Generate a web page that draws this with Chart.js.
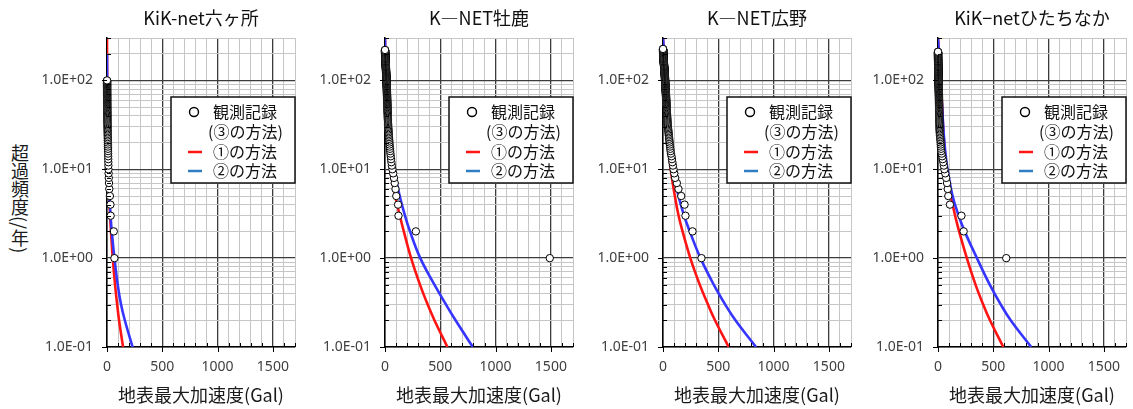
<!DOCTYPE html>
<html lang="ja">
<head>
<meta charset="utf-8">
<title>地表最大加速度の超過頻度</title>
<script src="https://cdn.jsdelivr.net/npm/chart.js@4.4.1/dist/chart.umd.min.js"></script>
<style>
  html, body { margin: 0; padding: 0; background: #fff; }
  body { width: 1133px; height: 409px; overflow: hidden; position: relative; }
  .panel { position: absolute; top: 0; }
  #yTitle {
    position: absolute; left: 11px; top: 144px;
    font: 18px "Noto Sans CJK JP", sans-serif; line-height: 1;
    writing-mode: vertical-rl; color: #1a1a1a;
  }
</style>
</head>
<body>
<div id="yTitle">超過頻度(/年)</div>
<canvas class="panel" id="p0" width="280" height="409" style="left:27px"></canvas>
<canvas class="panel" id="p1" width="280" height="409" style="left:305px"></canvas>
<canvas class="panel" id="p2" width="280" height="409" style="left:583px"></canvas>
<canvas class="panel" id="p3" width="280" height="409" style="left:858px"></canvas>
<script>
// --- axes ---
const xTickValues = [0, 100, 200, 300, 400, 500, 600, 700, 800, 900, 1000, 1100, 1200, 1300, 1400, 1500, 1600, 1700];
const xLabelValues = [0, 500, 1000, 1500];
const yTickValues = [0.1, 0.2, 0.3, 0.4, 0.5, 0.6, 0.7, 0.8, 0.9,
                     1, 2, 3, 4, 5, 6, 7, 8, 9,
                     10, 20, 30, 40, 50, 60, 70, 80, 90,
                     100, 200, 300];
const yMajorValues = [0.1, 1, 10, 100];
const yMajorLabels = ['1.0E-01', '1.0E+00', '1.0E+01', '1.0E+02'];

const stationNames = ['KiK-net六ヶ所', 'K—NET牡鹿', 'K—NET広野', 'KiK−netひたちなか'];
const legendLabels = ['観測記録', '(③の方法)', '①の方法', '②の方法'];

// --- observed PGA (Gal), largest first; exceedance count = rank ---
const obsRokkasho = [
  67, 61, 33, 31, 26, 21, 18, 16, 14.5, 13,
  12.4, 11.8, 11.2, 10.6, 10.1, 9.6, 9.1, 8.7, 8.3, 7.9,
  7.5, 7.2, 6.9, 6.6, 6.3, 6.0, 5.8, 5.5, 5.3, 5.1,
  4.9, 4.7, 4.5, 4.3, 4.2, 4.0, 3.9, 3.7, 3.6, 3.5,
  3.4, 3.3, 3.2, 3.1, 3.0, 2.9, 2.8, 2.7, 2.6, 2.5,
  2.4, 2.4, 2.3, 2.2, 2.2, 2.1, 2.0, 2.0, 1.9, 1.9,
  1.8, 1.8, 1.7, 1.7, 1.6, 1.6, 1.5, 1.5, 1.5, 1.4,
  1.4, 1.3, 1.3, 1.3, 1.2, 1.2, 1.2, 1.1, 1.1, 1.1,
  1.0, 1.0, 1.0, 0.9, 0.9, 0.9, 0.9, 0.8, 0.8, 0.8,
  0.8, 0.7, 0.7, 0.7, 0.7, 0.6, 0.6, 0.6, 0.6, 0.5
];
const obsOshika = [
  1490, 279, 122, 118, 102, 95, 88, 81, 74, 67,
  62, 58, 55, 52, 49, 47, 45, 43, 41, 40,
  38.5, 37, 36, 35, 34, 33, 32, 31, 30, 29,
  28.5, 28, 27.6, 27.2, 26.8, 26.4, 26, 25.6, 25.3, 25,
  24.7, 24.4, 24.1, 23.8, 23.5, 23.2, 22.9, 22.6, 22.3, 22,
  21.8, 21.6, 21.4, 21.2, 21, 20.8, 20.6, 20.4, 20.2, 20,
  19.8, 19.6, 19.4, 19.2, 19, 18.8, 18.6, 18.4, 18.2, 18,
  17.8, 17.7, 17.5, 17.4, 17.2, 17.1, 16.9, 16.8, 16.6, 16.5,
  16.3, 16.2, 16, 15.9, 15.7, 15.6, 15.4, 15.3, 15.1, 15,
  14.9, 14.7, 14.6, 14.5, 14.3, 14.2, 14.1, 14, 13.8, 13.7,
  13.5, 13.4, 13.2, 13.1, 12.9, 12.8, 12.6, 12.5, 12.3, 12.2,
  12, 11.9, 11.7, 11.6, 11.4, 11.3, 11.1, 11, 10.8, 10.7,
  10.5, 10.4, 10.2, 10.1, 9.9, 9.8, 9.6, 9.5, 9.3, 9.2,
  9, 8.9, 8.7, 8.6, 8.4, 8.3, 8.1, 8, 7.9, 7.8,
  7.6, 7.5, 7.4, 7.3, 7.1, 7, 6.9, 6.8, 6.6, 6.5,
  6.4, 6.3, 6.2, 6, 5.9, 5.8, 5.7, 5.6, 5.5, 5.4,
  5.3, 5.2, 5.1, 5, 4.9, 4.8, 4.7, 4.6, 4.5, 4.4,
  4.3, 4.2, 4.1, 4, 3.9, 3.8, 3.7, 3.6, 3.5, 3.4,
  3.3, 3.2, 3.1, 3, 2.9, 2.8, 2.7, 2.6, 2.5, 2.4,
  2.3, 2.2, 2.1, 2, 1.9, 1.8, 1.7, 1.6, 1.5, 1.4,
  1.35, 1.3, 1.25, 1.2, 1.15, 1.1, 1.05, 1, 0.95, 0.9,
  0.85, 0.8, 0.75, 0.7, 0.65, 0.6, 0.55, 0.5, 0.45, 0.4
];
const obsHirono = [
  348, 267, 203, 195, 165, 140, 125, 110, 102, 95,
  90, 85, 81, 77, 72, 69, 66, 64, 62, 60,
  58, 56, 54.5, 53, 51.5, 50, 48.5, 47, 45.5, 44,
  43.2, 42.4, 41.6, 40.8, 40, 39.4, 38.8, 38.2, 37.6, 37,
  36.5, 36, 35.5, 35, 34.5, 34, 33.6, 33.2, 32.8, 32.4,
  32, 31.6, 31.3, 31, 30.7, 30.4, 30.1, 29.8, 29.5, 29.2,
  28.9, 28.6, 28.3, 28, 27.7, 27.4, 27.1, 26.8, 26.5, 26.2,
  25.9, 25.6, 25.3, 25, 24.7, 24.4, 24.1, 23.8, 23.5, 23.2,
  22.9, 22.6, 22.4, 22.2, 22, 21.8, 21.6, 21.4, 21.2, 21,
  20.8, 20.6, 20.4, 20.2, 20, 19.8, 19.6, 19.4, 19.2, 19,
  18.8, 18.6, 18.4, 18.2, 18, 17.8, 17.6, 17.4, 17.2, 17,
  16.8, 16.6, 16.4, 16.2, 16, 15.8, 15.6, 15.4, 15.2, 15,
  14.8, 14.6, 14.4, 14.2, 14, 13.8, 13.6, 13.4, 13.2, 13,
  12.8, 12.6, 12.4, 12.2, 12, 11.8, 11.6, 11.4, 11.2, 11,
  10.8, 10.6, 10.4, 10.2, 10, 9.8, 9.6, 9.4, 9.2, 9,
  8.8, 8.6, 8.4, 8.2, 8, 7.8, 7.6, 7.4, 7.2, 7,
  6.8, 6.6, 6.4, 6.2, 6, 5.8, 5.6, 5.4, 5.2, 5,
  4.9, 4.8, 4.7, 4.6, 4.5, 4.4, 4.3, 4.2, 4.1, 4,
  3.9, 3.8, 3.7, 3.6, 3.5, 3.4, 3.3, 3.2, 3.1, 3,
  2.9, 2.8, 2.7, 2.6, 2.5, 2.4, 2.3, 2.2, 2.1, 2,
  1.9, 1.85, 1.8, 1.75, 1.7, 1.65, 1.6, 1.55, 1.5, 1.45,
  1.4, 1.35, 1.3, 1.25, 1.2, 1.15, 1.1, 1.05, 1, 0.95,
  0.9, 0.8, 0.7, 0.6, 0.5, 0.4
];
const obsHitachinaka = [
  617, 232, 212, 108, 93, 88, 82, 74, 66, 58,
  53, 48, 43, 38, 34, 30, 28, 26.5, 25, 24,
  22.5, 21, 19.5, 18, 17, 16, 15, 14.5, 14, 13.6,
  13.3, 13, 12.7, 12.4, 12.1, 11.8, 11.6, 11.4, 11.2, 11,
  10.9, 10.8, 10.7, 10.6, 10.5, 10.4, 10.3, 10.2, 10.1, 10,
  9.9, 9.8, 9.7, 9.6, 9.5, 9.4, 9.3, 9.2, 9.1, 9,
  8.9, 8.8, 8.7, 8.6, 8.5, 8.4, 8.3, 8.2, 8.1, 8,
  7.8, 7.7, 7.6, 7.5, 7.4, 7.2, 7.1, 7, 6.9, 6.8,
  6.7, 6.6, 6.5, 6.4, 6.3, 6.2, 6.1, 6, 5.9, 5.8,
  5.7, 5.6, 5.5, 5.5, 5.4, 5.3, 5.2, 5.1, 5.05, 5,
  4.9, 4.85, 4.8, 4.75, 4.7, 4.6, 4.55, 4.5, 4.45, 4.4,
  4.3, 4.25, 4.2, 4.15, 4.1, 4, 3.95, 3.9, 3.85, 3.8,
  3.7, 3.65, 3.6, 3.55, 3.5, 3.4, 3.35, 3.3, 3.25, 3.2,
  3.15, 3.1, 3.05, 3, 2.95, 2.9, 2.85, 2.8, 2.75, 2.7,
  2.65, 2.6, 2.55, 2.5, 2.5, 2.45, 2.4, 2.35, 2.3, 2.25,
  2.2, 2.15, 2.1, 2.05, 2, 1.95, 1.9, 1.85, 1.8, 1.75,
  1.7, 1.65, 1.6, 1.55, 1.5, 1.45, 1.4, 1.35, 1.3, 1.25,
  1.2, 1.15, 1.1, 1.05, 1, 0.97, 0.94, 0.91, 0.88, 0.85,
  0.82, 0.79, 0.76, 0.73, 0.7, 0.68, 0.66, 0.64, 0.62, 0.6,
  0.58, 0.56, 0.54, 0.52, 0.5, 0.48, 0.46, 0.44, 0.42, 0.4,
  0.39, 0.38, 0.37, 0.36, 0.35, 0.34, 0.33, 0.32, 0.31, 0.3
];

// --- estimated hazard curves: PGA (Gal) at each exceedance frequency (/年) ---
const curveFreq = [300, 200, 100, 50, 20, 10, 5, 3, 2, 1, 0.5, 0.3, 0.2, 0.1];
const method1Rokkasho    = [0, 0.4, 1.3, 2.6, 5.2, 9.5, 19, 28, 36, 52, 73, 92, 109, 145];
const method2Rokkasho    = [null, 0, 1.3, 2.6, 5.2, 10.4, 22, 32, 43, 67, 97, 127, 161, 231];
const method1Oshika      = [0, 1.7, 7, 14, 26, 48, 92, 134, 170, 236, 317, 386, 447, 564];
const method2Oshika      = [0, 2.6, 12, 26, 46, 81, 133, 181, 226, 319, 448, 552, 638, 794];
const method1Hirono      = [0, 5, 15, 24, 46, 70, 107, 141, 177, 247, 333, 407, 470, 594];
const method2Hirono      = [0, 11, 23, 34, 58, 89, 140, 191, 242, 339, 460, 563, 655, 841];
const method1Hitachinaka = [0, 9, 27, 37, 55, 78, 117, 155, 191, 261, 340, 409, 470, 590];
const method2Hitachinaka = [0, 9, 25, 37, 58, 86, 132, 187, 241, 352, 469, 568, 657, 843];

const RED = '#ff1414';
const BLUE = '#3535ff';
const LEGEND_BLUE = '#2f7ec2';
const MAJOR_GRID = '#3c3c3c';
const MINOR_GRID = '#c6c6c6';
const CJK_FONT = '"Noto Sans CJK JP", sans-serif';
const NUM_FONT = '"Noto Sans", sans-serif';

const isMajorY = v => yMajorValues.some(m => Math.abs(m - v) / m < 1e-6);
const isMajorX = v => xLabelValues.includes(v);

// short tick marks: majors outside the plot, minors inside
const tickMarks = {
  id: 'tickMarks',
  afterDraw(chart) {
    const {ctx, chartArea: a, scales: {x, y}} = chart;
    ctx.save();
    ctx.strokeStyle = '#000';
    ctx.lineWidth = 1;
    ctx.beginPath();
    xTickValues.forEach(v => {
      const px = Math.round(x.getPixelForValue(v)) + 0.5;
      if (isMajorX(v)) { ctx.moveTo(px, a.bottom); ctx.lineTo(px, a.bottom + 5); }
      else { ctx.moveTo(px, a.bottom); ctx.lineTo(px, a.bottom - 4); }
    });
    yTickValues.forEach(v => {
      const py = Math.round(y.getPixelForValue(v)) + 0.5;
      if (isMajorY(v)) { ctx.moveTo(a.left - 5, py); ctx.lineTo(a.left, py); }
      else { ctx.moveTo(a.left, py); ctx.lineTo(a.left + 4, py); }
    });
    ctx.stroke();
    ctx.restore();
  }
};

// boxed legend inside the plot area
const legendBox = {
  id: 'legendBox',
  afterDatasetsDraw(chart) {
    const {ctx, chartArea: a} = chart;
    const L = a.left + 64, T = a.top + 59, W = 124, H = 86;
    ctx.save();
    ctx.fillStyle = '#fff';
    ctx.fillRect(L, T, W, H);
    ctx.strokeStyle = '#111';
    ctx.lineWidth = 1.5;
    ctx.strokeRect(L, T, W, H);

    ctx.beginPath();
    ctx.arc(L + 23, T + 15, 4.5, 0, Math.PI * 2);
    ctx.fillStyle = '#fff';
    ctx.fill();
    ctx.lineWidth = 1.4;
    ctx.strokeStyle = '#000';
    ctx.stroke();

    ctx.lineWidth = 2.5;
    ctx.strokeStyle = RED;
    ctx.beginPath(); ctx.moveTo(L + 17, T + 55); ctx.lineTo(L + 31, T + 55); ctx.stroke();
    ctx.strokeStyle = LEGEND_BLUE;
    ctx.beginPath(); ctx.moveTo(L + 17, T + 74); ctx.lineTo(L + 31, T + 74); ctx.stroke();

    ctx.fillStyle = '#111';
    ctx.font = '16px ' + CJK_FONT;
    ctx.textBaseline = 'middle';
    ctx.textAlign = 'left';
    ctx.fillText(legendLabels[0], L + 42, T + 15);
    ctx.fillText(legendLabels[1], L + 37, T + 35);
    ctx.fillText(legendLabels[2], L + 42, T + 55);
    ctx.fillText(legendLabels[3], L + 42, T + 74);
    ctx.restore();
  }
};

function curvePoints(values) {
  return curveFreq.map((f, i) => ({x: values[i], y: f})).filter(p => p.x !== null);
}

function makePanel(canvasId, name, observed, method1, method2) {
  const ctx = document.getElementById(canvasId).getContext('2d');
  return new Chart(ctx, {
    type: 'scatter',
    data: {
      datasets: [
        {
          label: legendLabels[0],
          data: observed.map((v, i) => ({x: v, y: i + 1})),
          pointRadius: 3.7,
          pointHoverRadius: 3.7,
          pointBorderWidth: 1,
          pointBorderColor: '#000',
          pointBackgroundColor: '#fff',
          clip: false
        },
        {
          label: legendLabels[3],
          data: curvePoints(method2),
          showLine: true,
          borderColor: BLUE,
          borderWidth: 2.6,
          pointRadius: 0,
          tension: 0.4
        },
        {
          label: legendLabels[2],
          data: curvePoints(method1),
          showLine: true,
          borderColor: RED,
          borderWidth: 2.6,
          pointRadius: 0,
          tension: 0.4
        }
      ]
    },
    options: {
      responsive: false,
      animation: false,
      events: [],
      layout: { padding: { left: 0, right: 4, top: 0, bottom: 0 } },
      plugins: {
        legend: { display: false },
        tooltip: { enabled: false },
        title: {
          display: true,
          text: name,
          fullSize: false,
          color: '#111',
          font: { family: CJK_FONT, size: 18, weight: 'normal', lineHeight: 1.2 },
          padding: { top: 7.4, bottom: 9 }
        }
      },
      scales: {
        x: {
          type: 'linear',
          min: xTickValues[0],
          max: xTickValues[xTickValues.length - 1],
          afterBuildTicks: s => { s.ticks = xTickValues.map(v => ({value: v})); },
          afterFit: s => { s.height = 62; },
          grid: {
            drawTicks: false,
            color: c => (c.tick && isMajorX(c.tick.value)) ? MAJOR_GRID : MINOR_GRID,
            lineWidth: c => (c.tick && isMajorX(c.tick.value)) ? 1.3 : 1
          },
          border: { display: true, color: '#000', width: 1.5 },
          ticks: {
            autoSkip: false,
            maxRotation: 0,
            padding: 12,
            color: '#404040',
            font: { family: NUM_FONT, size: 14 },
            callback: v => isMajorX(v) ? String(v) : ''
          },
          title: {
            display: true,
            text: '地表最大加速度(Gal)',
            color: '#1a1a1a',
            font: { family: CJK_FONT, size: 18, lineHeight: 1.2 },
            padding: { top: 0, bottom: 3 }
          }
        },
        y: {
          type: 'logarithmic',
          min: yTickValues[0],
          max: yTickValues[yTickValues.length - 1],
          afterBuildTicks: s => { s.ticks = yTickValues.map(v => ({value: v})); },
          afterFit: s => { s.width = 80; },
          grid: {
            drawTicks: false,
            color: c => (c.tick && isMajorY(c.tick.value)) ? MAJOR_GRID : MINOR_GRID,
            lineWidth: c => (c.tick && isMajorY(c.tick.value)) ? 1.3 : 1
          },
          border: { display: true, color: '#000', width: 1.5 },
          ticks: {
            autoSkip: false,
            padding: 14,
            color: '#404040',
            font: { family: NUM_FONT, size: 14 },
            callback: v => {
              const k = yMajorValues.findIndex(m => Math.abs(m - v) / m < 1e-6);
              return k >= 0 ? yMajorLabels[k] : '';
            }
          }
        }
      }
    },
    plugins: [tickMarks, legendBox]
  });
}

document.addEventListener('DOMContentLoaded', () => {
  makePanel('p0', stationNames[0], obsRokkasho, method1Rokkasho, method2Rokkasho);
  makePanel('p1', stationNames[1], obsOshika, method1Oshika, method2Oshika);
  makePanel('p2', stationNames[2], obsHirono, method1Hirono, method2Hirono);
  makePanel('p3', stationNames[3], obsHitachinaka, method1Hitachinaka, method2Hitachinaka);
});
</script>
</body>
</html>
